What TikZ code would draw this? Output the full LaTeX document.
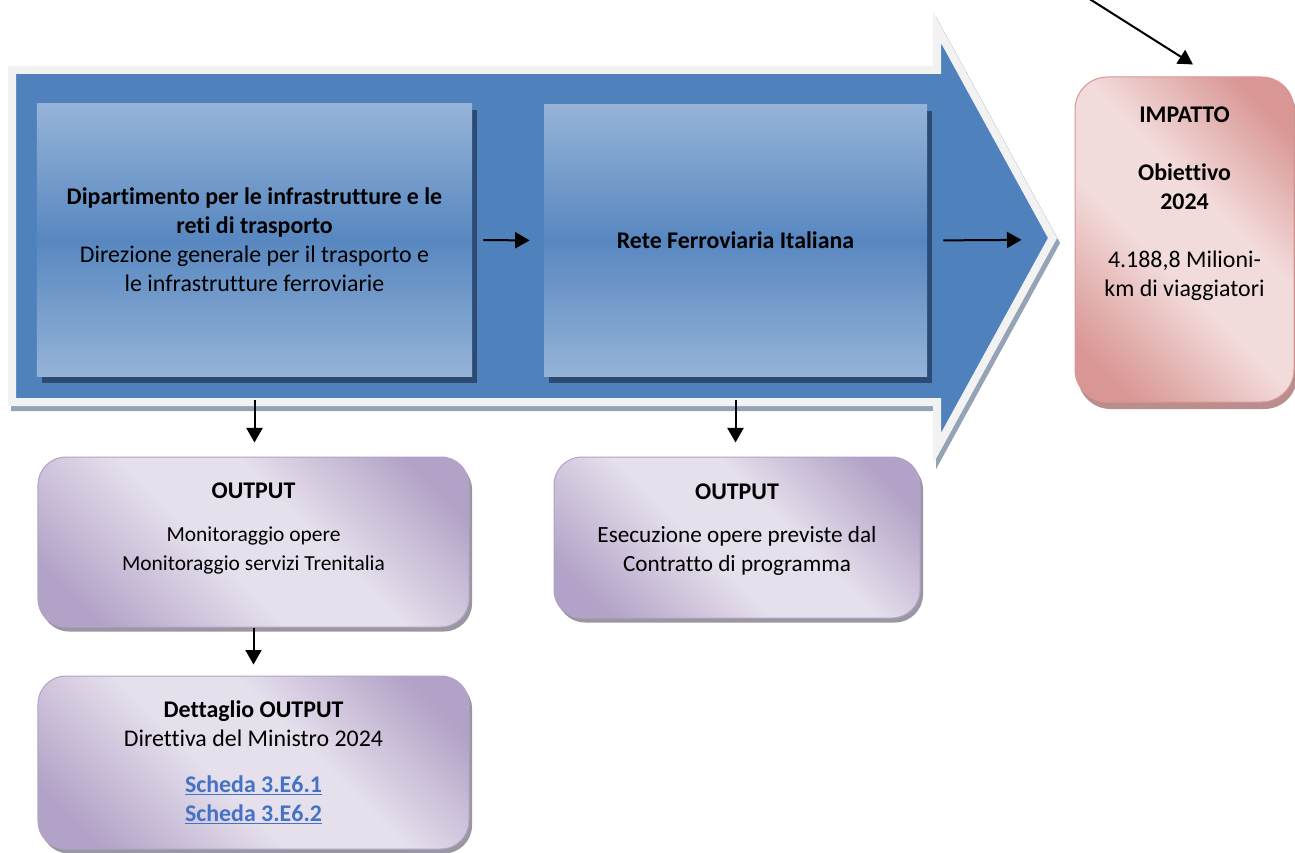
\documentclass[tikz,border=0pt]{standalone}
\usepackage{fontspec}
\setmainfont{Carlito}[Ligatures={NoCommon,NoContextual,NoRequired}]
\usetikzlibrary{arrows.meta, positioning, shadows, calc}
\definecolor{arrowBlue}{HTML}{4F81BD}
\definecolor{rimGray}{HTML}{F2F2F2}
\definecolor{rimShadow}{HTML}{95A3B6}
\definecolor{boxLight}{HTML}{95B3D7}
\definecolor{boxShadow}{HTML}{2C4A74}
\definecolor{lilacLight}{HTML}{E6E0EC}
\definecolor{lilacDark}{HTML}{B2A2C7}
\definecolor{lilacShadow}{HTML}{9A97A0}
\definecolor{roseLight}{HTML}{F2DCDB}
\definecolor{roseDark}{HTML}{D99694}
\definecolor{roseShadow}{HTML}{B98E8D}
\definecolor{linkBlue}{HTML}{4472C4}
\pgfdeclarehorizontalshading{lilacdiag}{100bp}{color(0bp)=(lilacDark); color(22bp)=(lilacDark); color(44bp)=(lilacLight); color(58bp)=(lilacLight); color(78bp)=(lilacDark); color(100bp)=(lilacDark)}
\pgfdeclarehorizontalshading{rosediag}{100bp}{color(0bp)=(roseDark); color(22bp)=(roseDark); color(44bp)=(roseLight); color(58bp)=(roseLight); color(78bp)=(roseDark); color(100bp)=(roseDark)}
\newcommand{\linktext}[1]{\textcolor{linkBlue}{\textbf{\underline{#1}}}}
\newcommand{\smallbody}{\fontsize{12.2pt}{14.6pt}\selectfont}
\newcommand{\midbody}{\fontsize{13.2pt}{15.6pt}\selectfont}

\begin{document}
\begin{tikzpicture}[x=0.2mm, y=-0.2mm, font=\fontsize{13.6pt}{16.5pt}\selectfont,
    bluebox/.style={top color=boxLight, bottom color=boxLight, middle color=arrowBlue!95!white,
      general shadow={fill=boxShadow, shadow xshift=1mm, shadow yshift=-1.3mm}, align=center, inner sep=0pt},
    outbox/.style={draw=lilacDark, line width=0.2mm, rounded corners=5.6mm, shading=lilacdiag, shading angle=45,
      general shadow={fill=lilacShadow, shadow xshift=0.6mm, shadow yshift=-0.9mm}, align=center, inner sep=0pt},
    impbox/.style={draw=roseDark, line width=0.2mm, rounded corners=6.5mm, shading=rosediag, shading angle=45,
      general shadow={fill=roseShadow, shadow xshift=0.6mm, shadow yshift=-1.4mm}, align=center, inner sep=0pt},
    arr/.style={-{Triangle[length=2.9mm, width=3.2mm]}, line width=0.4mm}]
  \useasboundingbox (0,0) rectangle (1295,853);

  % big process arrow
  \draw[draw=rimGray, fill=arrowBlue, line width=1.6mm,
    general shadow={draw=rimShadow, fill=rimShadow, line width=1.6mm, shadow xshift=0.6mm, shadow yshift=-1mm}]
    (12,70) -- (937,70) -- (937,27.4) -- (1052.5,238) -- (937,448.6) -- (937,402) -- (12,402) -- cycle;

  \node[bluebox, minimum width=87mm, minimum height=54.4mm] (dip) at (254.5,240)
    {\textbf{Dipartimento per le infrastrutture e le}\\ \textbf{reti di trasporto}\\
     Direzione generale per il trasporto e\\ le infrastrutture ferroviarie};
  \node[bluebox, minimum width=76.6mm, minimum height=54.2mm] (rfi) at (735.5,240.5)
    {\textbf{Rete Ferroviaria Italiana}};

  \node[impbox, minimum width=43.8mm, minimum height=65mm, text depth=15mm] (imp) at (1184.5,239.5)
    {\textbf{IMPATTO}\\[16.5pt] \textbf{Obiettivo}\\ \textbf{2024}\\[16.5pt] 4.188,8 Milioni-\\ km di viaggiatori};

  \node[outbox, minimum width=86.2mm, minimum height=34mm, text depth=6mm] (out1) at (253.5,542)
    {\textbf{OUTPUT}\\[2.8mm] \smallbody Monitoraggio opere\\ \smallbody Monitoraggio servizi Trenitalia};
  \node[outbox, minimum width=73.2mm, minimum height=32.2mm, text depth=4mm] (out2) at (737,537.5)
    {\textbf{OUTPUT}\\[2.8mm] \midbody Esecuzione opere previste dal\\ \midbody Contratto di programma};
  \node[outbox, minimum width=86.2mm, minimum height=34.6mm] (det) at (253.5,762.5)
    {\textbf{Dettaglio OUTPUT}\\ Direttiva del Ministro 2024\\[3.4mm] \linktext{Scheda 3.E6.1}\\ \linktext{Scheda 3.E6.2}};

  % connectors
  \coordinate (src) at (1088,-2);
  \draw[arr, shorten <=2.2mm, shorten >=2.8mm] (dip.east) -- (rfi.west);
  \draw[arr, shorten <=3.2mm, shorten >=10.6mm] (rfi.east) -- (imp.west);
  \draw[arr, shorten <=4.8mm, shorten >=2.8mm] (dip.south) -- (dip.south |- out1.north);
  \draw[arr, shorten <=4.8mm, shorten >=2.8mm] (rfi.south) -- (rfi.south |- out2.north);
  \draw[arr, shorten >=2.2mm] (out1.south) -- (out1.south |- det.north);
  \draw[arr, shorten >=4.5mm] (src) -- ([xshift=5.5mm]imp.north);
\end{tikzpicture}
\end{document}
